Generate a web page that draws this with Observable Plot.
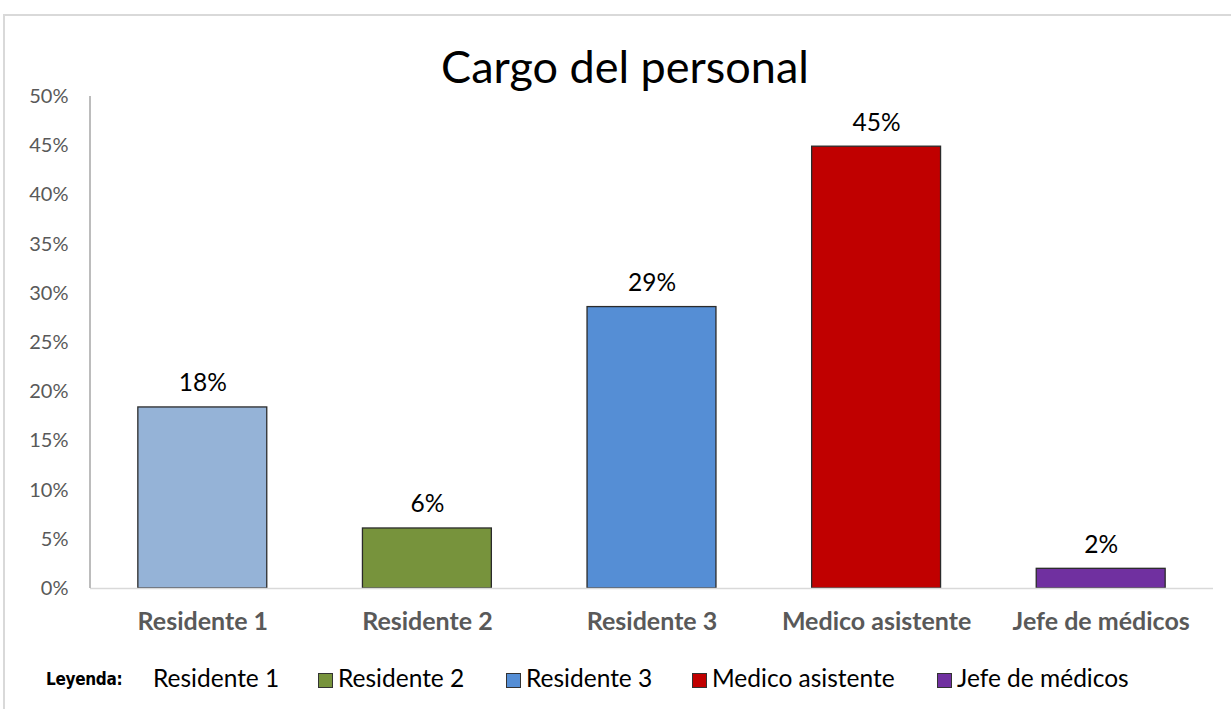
<!DOCTYPE html>
<html>
<head>
<meta charset="utf-8">
<script src="https://cdn.jsdelivr.net/npm/d3@7"></script>
<script src="https://cdn.jsdelivr.net/npm/@observablehq/plot@0.6"></script>
<style>
  body { margin: 0; background: #fff; }
  #wrap { position: relative; width: 1231px; height: 709px; overflow: hidden; font-family: Lato, "Open Sans", sans-serif; }
  #frame { position: absolute; left: 3px; top: 14px; width: 1240px; height: 720px; border: 2px solid #d9d9d9; box-sizing: border-box; }
  #title { position: absolute; left: 0; width: 1250px; top: 38px; text-align: center; font-size: 45px; line-height: 56px; color: #000; }
  #legend { position: absolute; left: 46px; top: 663px; font-size: 24.5px; line-height: 30px; color: #000; white-space: nowrap; }
  #legend .lab { position: absolute; top: 7px; font-family: "DejaVu Sans Condensed", "DejaVu Sans", sans-serif; font-weight: bold; font-size: 17px; line-height: 18px; letter-spacing: -0.3px; }
  #legend .it { position: absolute; top: 0; }
  #legend .sw { display: inline-block; width: 15px; height: 15px; border: 1.5px solid #333; box-sizing: border-box; margin-right: 5px; vertical-align: -1px; }
  #chart { position: absolute; left: 0; top: 0; }
</style>
</head>
<body>
<div id="wrap">
  <div id="frame"></div>
  <div id="chart"></div>
  <div id="title">Cargo del personal</div>
  <div id="legend"></div>
</div>
<script>
const categories = ["Residente 1", "Residente 2", "Residente 3", "Medico asistente", "Jefe de médicos"];
const values = [0.184, 0.061, 0.286, 0.449, 0.020];
const labels = ["18%", "6%", "29%", "45%", "2%"];
const colors = ["#95B3D7", "#77933C", "#558ED5", "#C00000", "#7030A0"];
const yTicks = [0, 0.05, 0.10, 0.15, 0.20, 0.25, 0.30, 0.35, 0.40, 0.45, 0.50];

const data = categories.map((c, i) => ({cat: c, value: values[i], label: labels[i]}));

// vertical axis line at the left edge of the plot area
const yAxisLine = (index, scales, channels, dim) => {
  const g = d3.create("svg:g");
  g.append("line")
    .attr("x1", dim.marginLeft).attr("x2", dim.marginLeft)
    .attr("y1", scales.y(0)).attr("y2", scales.y(0.5))
    .attr("stroke", "#a6a6a6").attr("stroke-width", 1.5);
  return g.node();
};

const plot = Plot.plot({
  width: 1231,
  height: 709,
  marginTop: 96,
  marginBottom: 121,
  marginLeft: 90,
  marginRight: 18,
  style: {fontFamily: "Lato, 'Open Sans', sans-serif", background: "transparent", overflow: "visible"},
  x: {domain: categories, paddingInner: 0.426, paddingOuter: 0.213, round: false, label: null},
  y: {domain: [0, 0.5], label: null},
  color: {domain: categories, range: colors},
  marks: [
    Plot.axisY({ticks: yTicks, tickFormat: d3.format(".0%"), tickSize: 0, tickPadding: 22, fontSize: 20, fill: "#595959", label: null}),
    Plot.axisX({tickSize: 0, tickPadding: 24, fontSize: 25, fontWeight: "bold", fill: "#595959", label: null}),
    Plot.barY(data, {x: "cat", y: "value", fill: "cat", stroke: "#2b2b2b", strokeWidth: 1.3}),
    Plot.ruleY([0], {stroke: "#d9d9d9", strokeWidth: 1.5}),
    yAxisLine,
    Plot.text(data, {x: "cat", y: "value", text: "label", dy: -16, lineAnchor: "bottom", fontSize: 24.5, fill: "#000"})
  ]
});
document.getElementById("chart").appendChild(plot);

// legend
const legend = document.getElementById("legend");
const lab = document.createElement("span");
lab.className = "lab"; lab.style.left = "0px"; lab.textContent = "Leyenda:";
legend.appendChild(lab);
const xs = [107, 272, 460, 646, 891];
categories.forEach((c, i) => {
  const it = document.createElement("span");
  it.className = "it"; it.style.left = xs[i] + "px";
  if (i > 0) {
    const sw = document.createElement("span");
    sw.className = "sw"; sw.style.background = colors[i];
    it.appendChild(sw);
  }
  it.appendChild(document.createTextNode(c));
  legend.appendChild(it);
});
</script>
</body>
</html>
